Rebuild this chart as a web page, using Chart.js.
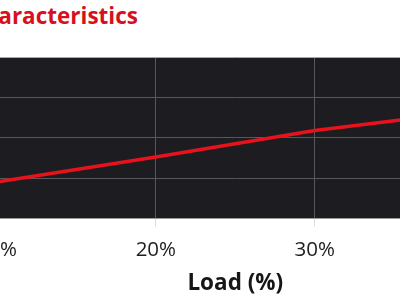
<!DOCTYPE html>
<html>
<head>
<meta charset="utf-8">
<script src="https://cdn.jsdelivr.net/npm/chart.js@4.4.1/dist/chart.umd.min.js"></script>
<style>
html,body{margin:0;padding:0;background:#fff;}
#wrap{position:relative;width:400px;height:300px;overflow:hidden;}
#title{position:absolute;right:262px;top:0px;font:bold 22.5px "Open Sans";color:#d6101c;white-space:nowrap;}
#box{position:absolute;left:0;top:0;}
</style>
</head>
<body>
<div id="wrap">
  <div id="box"><canvas id="c"></canvas></div>
  <div id="title">Efficiency Characteristics</div>
</div>
<script>
// load points (%) and efficiency
const loads = [10, 20, 30, 40, 50];
const efficiency = [84.5, 87.6, 90.9, 93.3, 95.0];
const xTicks = [0, 10, 20, 30, 40, 50];
const yTicks = [80, 85, 90, 95, 100];

// the picture only shows part of the chart, so the canvas is bigger and shifted
const PX_PER_PCT = 15.9;
const AREA_LEFT = -162;
const AREA_TOP = 57;
const AREA_HEIGHT = 161;

const plotBg = {
  id: 'plotBg',
  beforeDraw(c){
    const a = c.chartArea, ctx = c.ctx;
    ctx.save();
    ctx.fillStyle = '#1d1c21';
    ctx.fillRect(a.left, a.top, a.right - a.left, a.bottom - a.top);
    ctx.restore();
  },
  afterDraw(c){
    const a = c.chartArea, ctx = c.ctx;
    ctx.save();
    ctx.strokeStyle = '#a8a8a8';
    ctx.lineWidth = 1;
    ctx.beginPath();
    ctx.moveTo(a.left, a.top + 0.5);
    ctx.lineTo(a.right, a.top + 0.5);
    ctx.stroke();
    ctx.restore();
  }
};

let chart;

function build(w, h){
  if(chart) chart.destroy();
  const cv = document.getElementById('c');
  cv.width = w;
  cv.height = h;
  chart = new Chart(cv.getContext('2d'), {
    type: 'line',
    data: {
      datasets: [{
        label: 'Efficiency',
        data: loads.map((l, i) => ({x: l, y: efficiency[i]})),
        borderColor: '#e8121c',
        borderWidth: 3.5,
        pointRadius: 0,
        tension: 0,
        fill: false
      }]
    },
    options: {
      responsive: false,
      maintainAspectRatio: false,
      animation: false,
      layout: {padding: {top: 10, left: 10, right: 30, bottom: 0}},
      plugins: {legend: {display: false}, tooltip: {enabled: false}},
      scales: {
        x: {
          type: 'linear',
          min: 0, max: 50,
          afterBuildTicks: s => { s.ticks = xTicks.map(v => ({value: v})); },
          ticks: {
            callback: v => v + '%',
            color: '#1e1e1e',
            padding: 11,
            font: {family: 'Open Sans', size: 20.5}
          },
          grid: {color: '#58575d', tickColor: '#dcdcdc', tickLength: 8},
          border: {color: '#9a9a9a'},
          title: {
            display: true,
            text: 'Load (%)',
            color: '#161616',
            padding: {top: -3, bottom: 3},
            font: {family: 'Open Sans', size: 22.5, weight: 'bold'}
          }
        },
        y: {
          min: 80, max: 100,
          afterBuildTicks: s => { s.ticks = yTicks.map(v => ({value: v})); },
          ticks: {
            callback: v => v + '%',
            color: '#222',
            font: {family: 'Open Sans', size: 20}
          },
          grid: {color: '#58575d', tickColor: '#dcdcdc'},
          border: {color: '#9a9a9a'},
          title: {
            display: true,
            text: 'Efficiency (%)',
            color: '#1a1a1a',
            font: {family: 'Open Sans', size: 20, weight: 'bold'}
          }
        }
      }
    },
    plugins: [plotBg]
  });
}

build(900, 300);
let a = chart.chartArea;
build(Math.round(900 + (PX_PER_PCT * 50 - (a.right - a.left))), Math.round(300 + (AREA_HEIGHT - (a.bottom - a.top))));
a = chart.chartArea;
const box = document.getElementById('box');
box.style.left = Math.round(AREA_LEFT - a.left) + 'px';
box.style.top = Math.round(AREA_TOP - a.top) + 'px';
</script>
</body>
</html>
